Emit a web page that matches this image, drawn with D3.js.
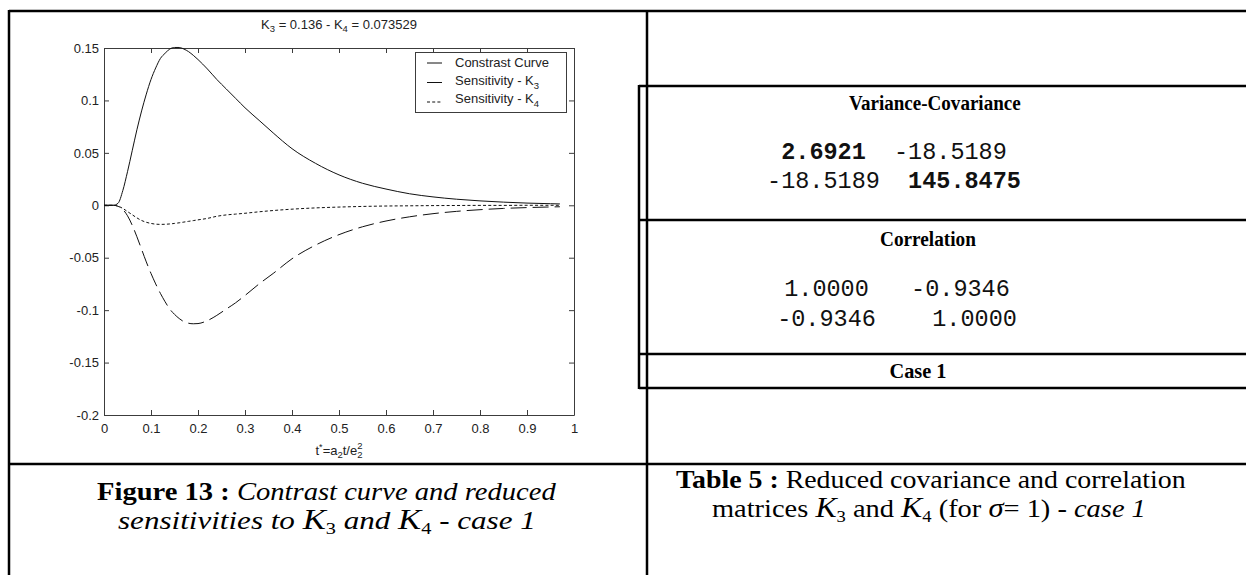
<!DOCTYPE html>
<html><head><meta charset="utf-8">
<script src="https://cdn.jsdelivr.net/npm/d3@7"></script>
<style>body{margin:0;background:#fff;overflow:hidden}</style>
</head><body>
<svg id="c" width="1246" height="575" xmlns="http://www.w3.org/2000/svg"></svg>
<script>
// ---------------- data ----------------
const tValues      = [0, 0.02, 0.03, 0.04, 0.05, 0.06, 0.07, 0.08, 0.09, 0.10, 0.11, 0.12, 0.13, 0.14, 0.15, 0.16, 0.17, 0.18, 0.19, 0.20, 0.22, 0.24, 0.26, 0.28, 0.30, 0.33, 0.36, 0.40, 0.45, 0.50, 0.55, 0.60, 0.65, 0.70, 0.75, 0.80, 0.85, 0.90, 0.95, 0.97];
const contrastCurve= [0, 0, 0.002, 0.014, 0.032, 0.052, 0.072, 0.090, 0.106, 0.120, 0.131, 0.140, 0.145, 0.149, 0.1505, 0.1505, 0.149, 0.1465, 0.143, 0.139, 0.130, 0.120, 0.111, 0.102, 0.093, 0.081, 0.069, 0.054, 0.040, 0.029, 0.021, 0.0155, 0.011, 0.008, 0.0058, 0.0042, 0.003, 0.0021, 0.0015, 0.0013];
const sensK3       = [0, 0, -0.001, -0.004, -0.010, -0.019, -0.030, -0.042, -0.054, -0.065, -0.075, -0.084, -0.092, -0.099, -0.104, -0.108, -0.111, -0.1125, -0.113, -0.1128, -0.110, -0.105, -0.099, -0.093, -0.086, -0.075, -0.065, -0.051, -0.038, -0.028, -0.0205, -0.015, -0.011, -0.008, -0.0058, -0.0042, -0.003, -0.0022, -0.0016, -0.0014];
const sensK4       = [0, 0, -0.0008, -0.003, -0.006, -0.009, -0.012, -0.0145, -0.0162, -0.0173, -0.018, -0.0182, -0.0181, -0.0178, -0.0173, -0.0167, -0.016, -0.0153, -0.0146, -0.0139, -0.0125, -0.0105, -0.0092, -0.0084, -0.0076, -0.0062, -0.005, -0.0037, -0.0025, -0.0017, -0.0011, -0.0007, -0.0005, -0.0003, -0.0002, -0.0001, -0.0001, 0, 0, 0];

const xTicks      = [0, 0.1, 0.2, 0.3, 0.4, 0.5, 0.6, 0.7, 0.8, 0.9, 1];
const xTickLabels = ["0", "0.1", "0.2", "0.3", "0.4", "0.5", "0.6", "0.7", "0.8", "0.9", "1"];
const yTicks      = [0.15, 0.1, 0.05, 0, -0.05, -0.1, -0.15, -0.2];
const yTickLabels = ["0.15", "0.1", "0.05", "0", "-0.05", "-0.1", "-0.15", "-0.2"];

const seriesNames = ["Constrast Curve", "Sensitivity - K", "Sensitivity - K"];
const seriesSubs  = ["", "3", "4"];

const covHeader = "Variance-Covariance";
const covRows   = [[["2.6921", true], ["  -18.5189", false]], [["-18.5189  ", false], ["145.8475", true]]];
const corHeader = "Correlation";
const corRows   = [[["1.0000   -0.9346", false]], [["-0.9346    1.0000", false]]];
const caseLabel = "Case 1";

// ---------------- helpers ----------------
const svg = d3.select("#c");
const SANS = "'Liberation Sans', Arial, Helvetica, sans-serif";
const SERIF = "'Liberation Serif', 'Times New Roman', serif";
const MONO = "'Liberation Mono', 'Courier New', monospace";

function rich(parent, x, y, parts, opts) {
  const t = parent.append("text").attr("x", x).attr("y", y)
    .attr("font-family", opts.family).attr("font-size", opts.size)
    .attr("text-anchor", opts.anchor || "start").attr("fill", opts.fill || "#000")
    .style("white-space", "pre");
  if (opts.bold) t.attr("font-weight", "bold");
  let shift = 0;
  parts.forEach(p => {
    const ts = t.append("tspan").text(p.t);
    const target = p.shift || 0;
    if (target - shift !== 0) ts.attr("dy", target - shift);
    shift = target;
    if (p.size) ts.attr("font-size", p.size);
    if (p.b) ts.attr("font-weight", "bold");
    if (p.i) ts.attr("font-style", "italic");
    if (p.dx) ts.attr("dx", p.dx);
  });
  return t;
}
// place a rich line centred at cx, scaled horizontally to the target width
function fitLine(parent, cx, y, parts, size, family, targetW, bold) {
  const g = parent.append("g");
  const t = rich(g, 0, 0, parts, {family, size, bold});
  const w = t.node().getBBox().width;
  const sx = targetW / w;
  g.attr("transform", `translate(${cx - targetW / 2},${y}) scale(${sx},1)`);
  return g;
}

// ---------------- frame ----------------
const frame = svg.append("g").attr("stroke", "#000").attr("stroke-width", 2.5).attr("fill", "none");
frame.append("line").attr("x1", 9).attr("y1", 11).attr("x2", 1260).attr("y2", 11);
frame.append("line").attr("x1", 9).attr("y1", 10).attr("x2", 9).attr("y2", 590);
frame.append("line").attr("x1", 647).attr("y1", 10).attr("x2", 647).attr("y2", 590);
frame.append("line").attr("x1", 9).attr("y1", 464).attr("x2", 1260).attr("y2", 464);
// inner table
frame.append("line").attr("x1", 639).attr("y1", 86).attr("x2", 1260).attr("y2", 86);
frame.append("line").attr("x1", 639).attr("y1", 85).attr("x2", 639).attr("y2", 389);
frame.append("line").attr("x1", 639).attr("y1", 220).attr("x2", 1260).attr("y2", 220);
frame.append("line").attr("x1", 639).attr("y1", 354).attr("x2", 1260).attr("y2", 354);
frame.append("line").attr("x1", 639).attr("y1", 388).attr("x2", 1260).attr("y2", 388);

// ---------------- plot ----------------
const x = d3.scaleLinear().domain([0, 1]).range([104, 574]);
const y = d3.scaleLinear().domain([-0.2, 0.15]).range([415, 48]);
const plot = svg.append("g");
const AX = "#3c3c3c";

function styleAxis(g) {
  g.selectAll("path,line").attr("stroke", AX);
  g.selectAll("text").attr("fill", "#222").attr("font-family", SANS).attr("font-size", 13);
}
plot.append("g").attr("transform", `translate(0,415)`)
  .call(d3.axisBottom(x).tickValues(xTicks).tickFormat((d, i) => xTickLabels[i]).tickSizeInner(-5).tickSizeOuter(0).tickPadding(9))
  .call(styleAxis);
plot.append("g").attr("transform", `translate(0,48)`)
  .call(d3.axisTop(x).tickValues(xTicks).tickFormat("").tickSizeInner(-5).tickSizeOuter(0))
  .call(styleAxis);
plot.append("g").attr("transform", `translate(104,0)`)
  .call(d3.axisLeft(y).tickValues(yTicks).tickFormat((d, i) => yTickLabels[i]).tickSizeInner(-5).tickSizeOuter(0).tickPadding(5))
  .call(styleAxis);
plot.append("g").attr("transform", `translate(574,0)`)
  .call(d3.axisRight(y).tickValues(yTicks).tickFormat("").tickSizeInner(-5).tickSizeOuter(0))
  .call(styleAxis);

const rows = tValues.map((t, i) => ({t, c: contrastCurve[i], k3: sensK3[i], k4: sensK4[i]}));
const mk = key => d3.line().x(d => x(d.t)).y(d => y(d[key])).curve(d3.curveMonotoneX);
const styles = [
  {key: "c", dash: null},
  {key: "k3", dash: "16,6"},
  {key: "k4", dash: "3,2.2"}
];
styles.forEach(s => {
  plot.append("path").datum(rows).attr("d", mk(s.key)).attr("fill", "none")
    .attr("stroke", "#111").attr("stroke-width", 1).attr("stroke-dasharray", s.dash);
});

// title
rich(plot, 339, 29, [
  {t: "K"}, {t: "3", shift: 3, size: 9.5}, {t: " = 0.136 - K"}, {t: "4", shift: 3, size: 9.5}, {t: " = 0.073529"}
], {family: SANS, size: 13, anchor: "middle", fill: "#222"});

// x label (t* = a2 t / e2^2)
const xl = rich(plot, 339, 455, [
  {t: "t"}, {t: "*", shift: -5, size: 9}, {t: "=a"}, {t: "2", shift: 3, size: 9.5}, {t: "t/e"},
  {t: "2", shift: 3, size: 9.5}
], {family: SANS, size: 13, anchor: "middle", fill: "#222"});
{
  const bb = xl.node().getBBox();
  plot.append("text").attr("x", bb.x + bb.width - 5.3).attr("y", 449).attr("font-family", SANS)
    .attr("font-size", 9.5).attr("fill", "#222").text("2");
}

// legend
const leg = plot.append("g");
leg.append("rect").attr("x", 415.5).attr("y", 52.5).attr("width", 151).attr("height", 60)
  .attr("fill", "#fff").attr("stroke", AX);
const legY = d3.scalePoint().domain(d3.range(seriesNames.length)).range([67, 103]);
seriesNames.forEach((n, i) => {
  const parts = [{t: n}];
  if (seriesSubs[i]) parts.push({t: seriesSubs[i], shift: 3.5, size: 9.5});
  rich(leg, 455, legY(i), parts, {family: SANS, size: 13, fill: "#222"});
  leg.append("line").attr("x1", 427).attr("x2", 442)
    .attr("y1", legY(i) - 4 + i * 1.5).attr("y2", legY(i) - 4 + i * 1.5)
    .attr("stroke", "#111").attr("stroke-dasharray", styles[i].dash);
});

// ---------------- table ----------------
const tab = svg.append("g");
fitLine(tab, 935, 110, [{t: covHeader}], 22, SERIF, 172, true);
const rowY1 = d3.scalePoint().domain([0, 1]).range([159, 188]);
covRows.forEach((r, i) => {
  rich(tab, 894, rowY1(i), r.map(([t, b]) => ({t, b})), {family: MONO, size: 23.5, anchor: "middle", fill: "#111"});
});
fitLine(tab, 928, 246, [{t: corHeader}], 22, SERIF, 96, true);
const rowY2 = d3.scalePoint().domain([0, 1]).range([296, 326]);
corRows.forEach((r, i) => {
  rich(tab, 897, rowY2(i), r.map(([t, b]) => ({t, b})), {family: MONO, size: 23.5, anchor: "middle", fill: "#111"});
});
fitLine(tab, 918, 378, [{t: caseLabel}], 22, SERIF, 57, true);

// ---------------- captions ----------------
const cap = svg.append("g");
fitLine(cap, 327, 500, [
  {t: "Figure 13 : ", b: true}, {t: "Contrast curve and reduced", i: true}
], 26, SERIF, 460);
fitLine(cap, 327, 529, [
  {t: "sensitivities to ", i: true}, {t: "K", i: true, size: 29}, {t: "3", shift: 5, size: 17},
  {t: " and ", i: true}, {t: "K", i: true, size: 29}, {t: "4", shift: 5, size: 17}, {t: " - case 1", i: true}
], 26, SERIF, 418);
fitLine(cap, 931, 488, [
  {t: "Table 5 : ", b: true}, {t: "Reduced covariance and correlation"}
], 26, SERIF, 510);
fitLine(cap, 929, 517, [
  {t: "matrices "}, {t: "K", i: true, size: 29}, {t: "3", shift: 5, size: 17}, {t: " and "},
  {t: "K", i: true, size: 29}, {t: "4", shift: 5, size: 17}, {t: " (for "}, {t: "σ", i: true, size: 28},
  {t: "= 1) - "}, {t: "case 1", i: true}
], 26, SERIF, 434);
</script>
</body></html>
